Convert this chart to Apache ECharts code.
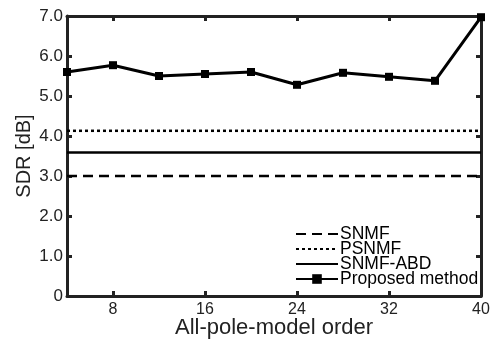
<!DOCTYPE html>
<html>
<head>
<meta charset="utf-8">
<script src="https://cdn.jsdelivr.net/npm/echarts@6/dist/echarts.min.js"></script>
<style>
  html, body { margin: 0; padding: 0; background: #fff; }
  #chart { width: 493px; height: 339px; }
</style>
</head>
<body>
<div id="chart"></div>
<script>
// all-pole model orders and SDR values
var orders = [4, 8, 12, 16, 20, 24, 28, 32, 36, 40];
var proposed = [5.6, 5.77, 5.5, 5.55, 5.6, 5.28, 5.58, 5.48, 5.38, 6.97];
var snmf = 3.0;
var psnmf = 4.13;
var snmfAbd = 3.59;
var xLabelTicks = [8, 16, 24, 32, 40];
var xMinorTicks = [8, 16, 24, 32];

var font = '"Liberation Sans", Arial, sans-serif';
var ink = '#222';

function flat(v) {
	return [[orders[0], v], [orders[orders.length - 1], v]];
}

var proposedData = [];
for (var i = 0; i < orders.length; i++) {
	proposedData.push([orders[i], proposed[i]]);
}

var myChart = echarts.init(document.getElementById('chart'));
var frameLine = { show: true, onZero: false, lineStyle: { color: ink, width: 3 } };
var noMarker = { opacity: 0 };

var option = {
	backgroundColor: '#fff',
	animation: false,
	textStyle: { fontFamily: font },
	grid: {
		left: 67,
		right: 12,
		top: 16,
		bottom: 43,
		containLabel: false,
		outerBoundsMode: 'none'
	},
	legend: {
		orient: 'vertical',
		left: 295,
		top: 225,
		padding: 0,
		itemWidth: 42,
		itemHeight: 12,
		itemGap: -3,
		textStyle: { fontFamily: font, fontSize: 17.5, color: '#000', padding: [0, 0, 0, -3] },
		data: [
			{ name: 'SNMF', itemStyle: noMarker },
			{ name: 'PSNMF', itemStyle: noMarker },
			{ name: 'SNMF-ABD', itemStyle: noMarker },
			{ name: 'Proposed method' }
		]
	},
	xAxis: [{
		type: 'value',
		position: 'bottom',
		min: 4,
		max: 40,
		axisLine: frameLine,
		axisTick: { show: true, inside: true, length: 5, customValues: xMinorTicks, lineStyle: { color: ink, width: 3 } },
		axisLabel: { customValues: xLabelTicks, fontSize: 16, color: ink, margin: 6, fontFamily: font },
		splitLine: { show: false },
		name: 'All-pole-model order',
		nameLocation: 'middle',
		nameGap: 21,
		nameMoveOverlap: false,
		nameTextStyle: { fontSize: 22, color: ink, fontFamily: font }
	}, {
		type: 'value',
		position: 'top',
		min: 4,
		max: 40,
		axisLine: frameLine,
		axisTick: { show: true, inside: true, length: 5, customValues: xMinorTicks, lineStyle: { color: ink, width: 3 } },
		axisLabel: { show: false },
		splitLine: { show: false }
	}],
	yAxis: [{
		type: 'value',
		position: 'left',
		min: 0,
		max: 7,
		interval: 1,
		axisLine: frameLine,
		axisTick: { show: true, inside: true, length: 5, lineStyle: { color: ink, width: 3 } },
		axisLabel: {
			fontSize: 17,
			color: ink,
			margin: 4,
			fontFamily: font,
			formatter: function(v) {
				return v === 0 ? '0' : v.toFixed(1);
			}
		},
		splitLine: { show: false },
		name: 'SDR [dB]',
		nameLocation: 'middle',
		nameGap: 33,
		nameMoveOverlap: false,
		nameTextStyle: { fontSize: 20, color: ink, fontFamily: font }
	}, {
		type: 'value',
		position: 'right',
		min: 0,
		max: 7,
		interval: 1,
		axisLine: frameLine,
		axisTick: { show: true, inside: true, length: 5, lineStyle: { color: ink, width: 3 } },
		axisLabel: { show: false },
		splitLine: { show: false }
	}],
	series: [{
		name: 'SNMF',
		type: 'line',
		symbol: 'none',
		data: flat(snmf),
		lineStyle: { color: '#000', width: 2.5, type: [10, 6] },
		itemStyle: { color: '#000' }
	}, {
		name: 'PSNMF',
		type: 'line',
		symbol: 'none',
		data: flat(psnmf),
		lineStyle: { color: '#000', width: 2.5, type: [3, 3] },
		itemStyle: { color: '#000' }
	}, {
		name: 'SNMF-ABD',
		type: 'line',
		symbol: 'none',
		data: flat(snmfAbd),
		lineStyle: { color: '#000', width: 2.5 },
		itemStyle: { color: '#000' }
	}, {
		name: 'Proposed method',
		type: 'line',
		symbol: 'rect',
		symbolSize: 8,
		showAllSymbol: true,
		clip: false,
		data: proposedData,
		lineStyle: { color: '#000', width: 3 },
		itemStyle: { color: '#000' }
	}]
};
myChart.setOption(option);
</script>
</body>
</html>
